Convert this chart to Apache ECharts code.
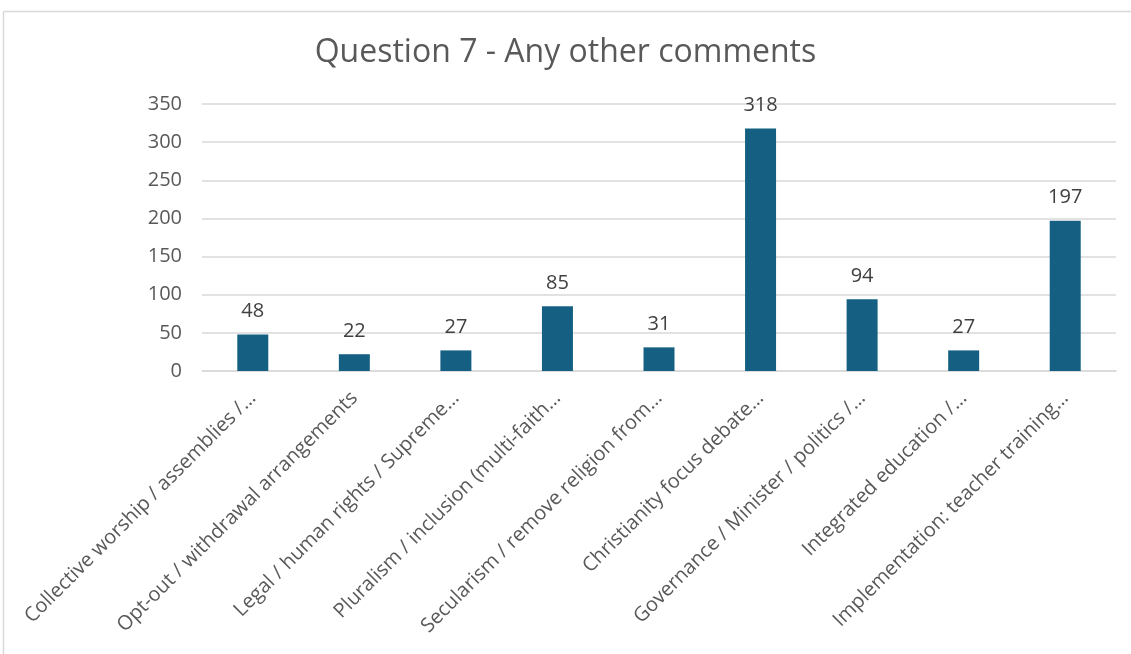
<!DOCTYPE html>
<html>
<head>
<meta charset="utf-8">
<script src="https://cdn.jsdelivr.net/npm/echarts@6/dist/echarts.min.js"></script>
<style>
  html, body { margin: 0; padding: 0; background: #ffffff; }
  #chart { width: 1131px; height: 654px; }
</style>
</head>
<body>
<div id="chart"></div>
<script>
// Comment themes for Question 7 and the number of responses in each
const categories = [
  'Collective worship / assemblies /…',
  'Opt-out / withdrawal arrangements',
  'Legal / human rights / Supreme…',
  'Pluralism / inclusion (multi-faith…',
  'Secularism / remove religion from…',
  'Christianity focus debate…',
  'Governance / Minister / politics /…',
  'Integrated education /…',
  'Implementation: teacher training…'
];
const counts = [48, 22, 27, 85, 31, 318, 94, 27, 197];
const yTicks = { min: 0, max: 350, interval: 50 };

const FONT = '"Open Sans", "Noto Sans", sans-serif';
const chart = echarts.init(document.getElementById('chart'), null, { renderer: 'canvas' });

chart.setOption({
  backgroundColor: '#ffffff',
  animation: false,
  title: {
    text: 'Question 7 - Any other comments',
    left: 'center',
    top: 32,
    textStyle: { fontFamily: FONT, fontSize: 32, fontWeight: 'normal', color: '#595959' }
  },
  graphic: [
    { type: 'line', shape: { x1: 3.5, y1: 11.5, x2: 1131, y2: 11.5 }, style: { stroke: '#d9d9d9', lineWidth: 1.5 } },
    { type: 'line', shape: { x1: 3.5, y1: 11.5, x2: 3.5, y2: 654 }, style: { stroke: '#d9d9d9', lineWidth: 1.5 } }
  ],
  grid: { left: 202, right: 15, top: 104, bottom: 283, containLabel: false },
  xAxis: {
    type: 'category',
    data: categories,
    axisLine: { show: true, lineStyle: { color: '#d9d9d9', width: 1.5 } },
    axisTick: { show: false },
    axisLabel: {
      interval: 0,
      rotate: 45,
      margin: 24,
      fontFamily: FONT,
      fontSize: 20,
      color: '#595959'
    }
  },
  yAxis: {
    type: 'value',
    min: yTicks.min,
    max: yTicks.max,
    interval: yTicks.interval,
    axisLine: { show: false },
    axisTick: { show: false },
    splitLine: { lineStyle: { color: '#d9d9d9', width: 1.5 } },
    axisLabel: { margin: 20, fontFamily: FONT, fontSize: 20, color: '#595959' }
  },
  series: [{
    type: 'bar',
    data: counts,
    barWidth: 31,
    itemStyle: { color: '#156082' },
    label: {
      show: true,
      position: 'top',
      distance: 13,
      fontFamily: FONT,
      fontSize: 20,
      color: '#404040'
    }
  }]
});
</script>
</body>
</html>
